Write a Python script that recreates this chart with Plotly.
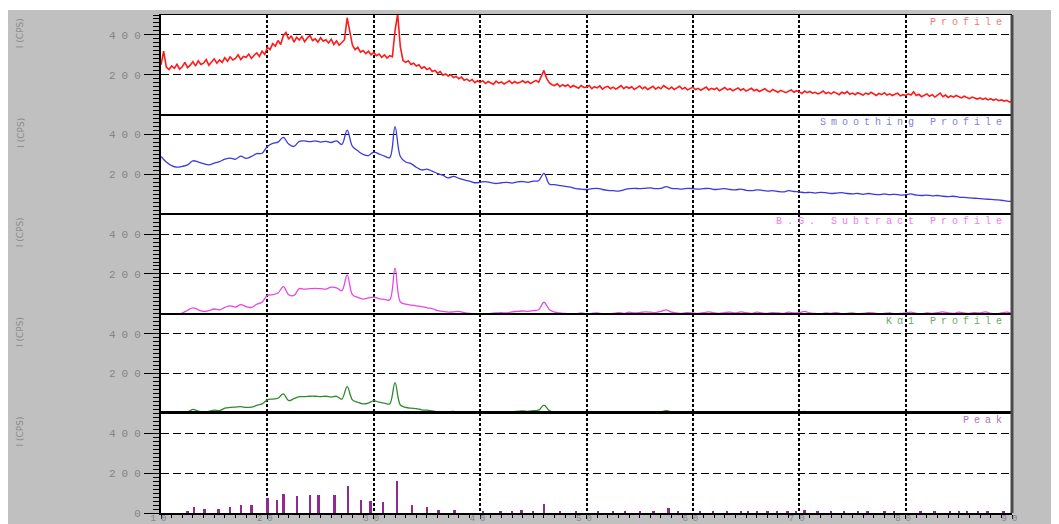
import numpy as np
import plotly.graph_objects as go
from plotly.subplots import make_subplots

# ---------------- data ----------------
two_theta_start = 10.0
two_theta_end = 90.0

# raw profile, 0.25 deg step (10.00 .. 90.00)
profile = [
    250, 318, 238, 226,  244, 232, 252, 228,  240, 262, 236, 248,  266, 244, 270, 252,
    258, 276, 248, 266,  280, 258, 274, 262,  286, 268, 290, 274,  282, 300, 276, 292,
    288, 304, 282, 298,  310, 292, 318, 302,  338, 326, 356, 344,  372, 352, 396, 412,
    378, 396, 364, 388,  374, 392, 366, 384,  398, 372, 380, 364,  386, 368, 376, 360,
    378, 352, 370, 348,  362, 376, 486, 418,  348, 326, 338, 314,  322, 306, 318, 300,
    312, 296, 304, 288,  300, 284, 296, 290,  420, 505, 340, 272,  262, 270, 252, 258,
    244, 250, 232, 240,  226, 234, 216, 222,  208, 216, 198, 204,  194, 200, 186, 192,
    180, 188, 172, 178,  168, 176, 160, 170,  162, 170, 156, 166,  160, 152, 168, 158,
    164, 154, 162, 170,  156, 166, 158, 162,  170, 160, 166, 156,  164, 172, 162, 192,
    222, 182, 160, 150,  146, 156, 140, 150,  142, 150, 136, 146,  140, 132, 146, 136,
    138, 146, 130, 140,  134, 144, 128, 138,  142, 130, 138, 128,  136, 146, 130, 140,
    132, 140, 126, 136,  144, 130, 138, 126,  134, 142, 128, 138,  130, 146, 136, 128,
    138, 126, 134, 142,  128, 136, 124, 132,  138, 126, 132, 122,  130, 138, 124, 132,
    126, 134, 120, 128,  136, 124, 130, 120,  128, 134, 122, 130,  118, 126, 132, 120,
    126, 116, 124, 130,  120, 114, 126, 118,  112, 122, 116, 110,  118, 124, 112, 120,
    114, 106, 118, 110,  116, 108, 112, 104,  110, 118, 106, 112,  104, 114, 108, 100,
    112, 106, 116, 102,  108, 100, 110, 104,  98, 108, 102, 112,   104, 96, 106, 100,
    110, 98, 104, 96,    102, 108, 94, 100,   96, 104, 98, 114,    96, 102, 90, 98,
    104, 92, 100, 88,    96, 108, 90, 98,     86, 94, 88, 96,      90, 84, 92, 86,
    80, 88, 82, 78,      84, 76, 82, 74,      80, 72, 78, 70,      74, 68, 72, 64,
    66,
]

# smoothed profile, 0.5 deg step (10.0 .. 90.0)
smoothing = [
    290, 262, 244, 236, 240, 248, 268, 262, 254, 248, 256, 264, 276, 282, 276, 292,
    280, 290, 304, 306, 340, 356, 362, 386, 352, 340, 366, 368, 364, 368, 362, 366,
    360, 368, 350, 422, 340, 318, 300, 294, 312, 302, 292, 284, 440, 290, 262, 254,
    236, 222, 226, 216, 204, 196, 182, 190, 180, 172, 166, 158, 160, 164, 158, 154,
    158, 160, 156, 162, 164, 160, 166, 168, 205, 152, 148, 144, 140, 136, 128, 126,
    124, 128, 130, 124, 120, 118, 116, 122, 128, 130, 128, 130, 132, 128, 130, 138,
    130, 128, 126, 130, 128, 126, 128, 130, 124, 126, 128, 124, 122, 126, 120, 118,
    122, 120, 116, 118, 114, 112, 118, 114, 112, 108, 110, 106, 110, 108, 104, 106,
    108, 104, 102, 104, 100, 104, 100, 98, 102, 98, 100, 96, 98, 102, 96, 94,
    96, 92, 94, 90, 88, 90, 86, 84, 82, 80, 78, 76, 74, 72, 70, 66,
    64,
]

# background-subtracted profile, 0.5 deg step
bg_subtract = [
    0, 0, 0, 0, 4, 18, 30, 20, 12, 16, 24, 20, 32, 40, 34, 46,
    36, 32, 48, 58, 92, 96, 104, 136, 96, 92, 126, 124, 126, 128, 126, 124,
    134, 130, 116, 195, 96, 82, 74, 80, 84, 76, 72, 70, 229, 60, 48, 44,
    40, 36, 30, 26, 16, 12, 8, 10, 12, 6, 2, 0, 0, 0, 2, 4,
    6, 4, 10, 12, 14, 12, 16, 20, 58, 22, 8, 4, 2, 0, 0, 4,
    0, 2, 4, 0, 0, 2, 6, 2, 8, 4, 6, 10, 8, 6, 12, 20,
    8, 4, 2, 6, 4, 2, 6, 10, 4, 2, 6, 8, 4, 10, 6, 2,
    8, 4, 2, 6, 4, 2, 8, 4, 6, 12, 4, 2, 0, 4, 2, 6,
    0, 2, 4, 0, 2, 6, 4, 0, 2, 4, 0, 2, 4, 8, 2, 0,
    4, 2, 6, 10, 4, 2, 8, 4, 2, 6, 4, 10, 2, 0, 4, 8,
    2,
]

# K-alpha1 profile, 0.5 deg step
ka1 = [
    0, 0, 0, 0, 0, 6, 20, 12, 6, 10, 16, 14, 26, 30, 32, 34,
    30, 32, 40, 48, 68, 72, 76, 98, 64, 74, 84, 84, 86, 86, 84, 86,
    82, 86, 72, 134, 68, 56, 48, 52, 64, 56, 52, 48, 154, 42, 30, 26,
    24, 18, 16, 12, 8, 4, 8, 10, 4, 2, 0, 0, 0, 2, 4, 6,
    2, 4, 8, 10, 12, 10, 14, 16, 42, 14, 4, 2, 0, 2, 0, 0,
    2, 0, 0, 2, 2, 0, 4, 2, 6, 2, 4, 8, 6, 4, 8, 14,
    6, 2, 0, 4, 2, 0, 4, 8, 2, 0, 4, 6, 2, 8, 4, 0,
    6, 2, 0, 4, 2, 0, 6, 2, 4, 10, 2, 0, 0, 2, 0, 4,
    0, 0, 2, 0, 0, 4, 2, 0, 0, 2, 0, 0, 2, 6, 0, 0,
    2, 0, 4, 8, 2, 0, 6, 2, 0, 4, 2, 8, 0, 0, 2, 6,
    0,
]

# peak list
peak_pos = [12.5, 13.1, 14.1, 15.4, 16.5, 17.5, 18.5, 20.0, 20.9, 21.5,
            22.8, 24.0, 24.8, 26.3, 27.6, 28.8, 29.7, 30.9, 32.2, 33.6,
            35.0, 36.1, 37.6, 40.3, 41.9, 43.0, 43.9, 45.0, 46.0, 47.5,
            49.0, 51.1, 52.5, 53.6, 55.0, 56.3, 57.7, 58.6, 60.7, 61.9,
            63.2, 64.5, 65.2, 66.0, 67.0, 67.9, 68.9, 69.7, 70.5, 71.7,
            73.0, 74.2, 75.5, 76.4, 78.0, 78.9, 81.4, 82.7, 84.2, 85.0,
            85.8, 86.8, 87.7, 89.2]
peak_int = [5, 26, 17, 17, 29, 39, 39, 72, 65, 94,
            82, 87, 90, 90, 133, 65, 60, 51, 161, 38,
            26, 12, 12, 5, 7, 4, 12, 9, 43, 7,
            7, 4, 6, 4, 7, 8, 25, 7, 6, 9,
            5, 8, 6, 10, 7, 5, 8, 6, 12, 6,
            5, 8, 6, 5, 9, 6, 5, 8, 7, 10,
            6, 8, 6, 9]

panel_titles = ["Profile", "Smoothing Profile", "B.G. Subtract Profile",
                "K\u03b11 Profile", "Peak"]
y_title = "I (CPS)"
x_ticks = [10, 20, 30, 40, 50, 60, 70, 80, 90]
y_ticks = [200, 400]

# ---------------- figure ----------------
x_fine = np.round(two_theta_start + 0.25 * np.arange(len(profile)), 2)
x_half = np.round(two_theta_start + 0.5 * np.arange(len(smoothing)), 2)

colors = ["#ff1a1a", "#3a3ae0", "#e845e8", "#2f8a2f", "#8f2a92"]
title_colors = ["#f07a7a", "#7f7fe6", "#ee7cee", "#6aaa6a", "#b070c0"]

fig = make_subplots(rows=5, cols=1, shared_xaxes=True, vertical_spacing=0)
fig.add_trace(go.Scatter(x=x_fine, y=profile, mode="lines",
                         line=dict(color=colors[0], width=1.6)), row=1, col=1)
fig.add_trace(go.Scatter(x=x_half, y=smoothing, mode="lines", line_shape="spline",
                         line=dict(color=colors[1], width=1.3)), row=2, col=1)
fig.add_trace(go.Scatter(x=x_half, y=bg_subtract, mode="lines", line_shape="spline",
                         line=dict(color=colors[2], width=1.3)), row=3, col=1)
fig.add_trace(go.Scatter(x=x_half, y=ka1, mode="lines", line_shape="spline",
                         line=dict(color=colors[3], width=1.3)), row=4, col=1)
fig.add_trace(go.Bar(x=peak_pos, y=peak_int, width=0.22,
                     marker=dict(color=colors[4], line=dict(width=0))), row=5, col=1)

mono = "Liberation Mono, Courier New, monospace"
tick_gray = "#858585"

def spaced(s, sp=4):
    return '<span style="letter-spacing:%dpx">%s</span>' % (sp, s)

for r in range(1, 6):
    last = (r == 5)
    fig.update_xaxes(
        row=r, col=1, range=[two_theta_start, two_theta_end], automargin=False,
        tickmode="array", tickvals=x_ticks,
        ticktext=[spaced(str(v), 5) for v in x_ticks],
        showticklabels=last, ticklabelstandoff=-9, ticklabeloverflow="allow",
        ticks="outside" if last else "", ticklen=4, tickcolor="black", tickwidth=1,
        minor=dict(dtick=1, tick0=10, ticks="outside" if last else "", ticklen=3,
                   tickcolor="black", showgrid=False),
        showgrid=True, gridcolor="black", gridwidth=2, griddash="3px,2px",
        showline=True, mirror=True, linecolor="black", linewidth=2 if last else 1,
        zeroline=False,
        tickfont=dict(family=mono, size=9, color=tick_gray),
    )
    tv = ([0] + y_ticks) if last else y_ticks
    fig.update_yaxes(
        row=r, col=1, range=[0, 500], fixedrange=True, automargin=False,
        tickmode="array", tickvals=tv, ticktext=[spaced(str(v), 6) for v in tv],
        ticklabelstandoff=-5,
        ticks="outside", ticklen=15, tickcolor="black", tickwidth=1,
        minor=dict(dtick=20, tick0=0, ticks="outside", ticklen=6,
                   tickcolor="black", showgrid=False),
        showgrid=True, gridcolor="black", gridwidth=1, griddash="8px,4px",
        showline=True, linecolor="black", linewidth=2, mirror=False,
        zeroline=False,
        tickfont=dict(family=mono, size=11, color=tick_gray),
    )

# panel titles and y titles
for i, t in enumerate(panel_titles):
    top = 1 - 0.2 * i
    fig.add_annotation(xref="paper", yref="paper", x=1, y=top, xanchor="right",
                       yanchor="top", xshift=-3, yshift=0, showarrow=False,
                       text=spaced(t, 5),
                       font=dict(family=mono, size=10, color=title_colors[i]))
    fig.add_annotation(xref="paper", yref="paper", x=-0.1655, y=top,
                       xanchor="center", yanchor="top", yshift=-1, showarrow=False,
                       textangle=-90, text=y_title,
                       font=dict(family="DejaVu Sans, sans-serif", size=9, color="#8c8c8c"))

# thin white strip at the very top, dark right border
fig.add_shape(type="rect", xref="paper", yref="paper", x0=-0.2, x1=1.1,
              y0=1.0101, y1=1.05, fillcolor="white", line=dict(width=0), layer="below")
fig.add_shape(type="line", xref="paper", yref="paper", x0=1, x1=1, y0=0, y1=1,
              line=dict(color="#4a4a4a", width=3))

# the page body keeps its default 8px margin, so the figure is sized to fill the rest
fig.update_layout(
    width=1051, height=516,
    margin=dict(l=153, r=47, t=7, b=11),
    paper_bgcolor="#c0c0c0", plot_bgcolor="white",
    showlegend=False, bargap=0,
)

fig.write_html("out.html")
